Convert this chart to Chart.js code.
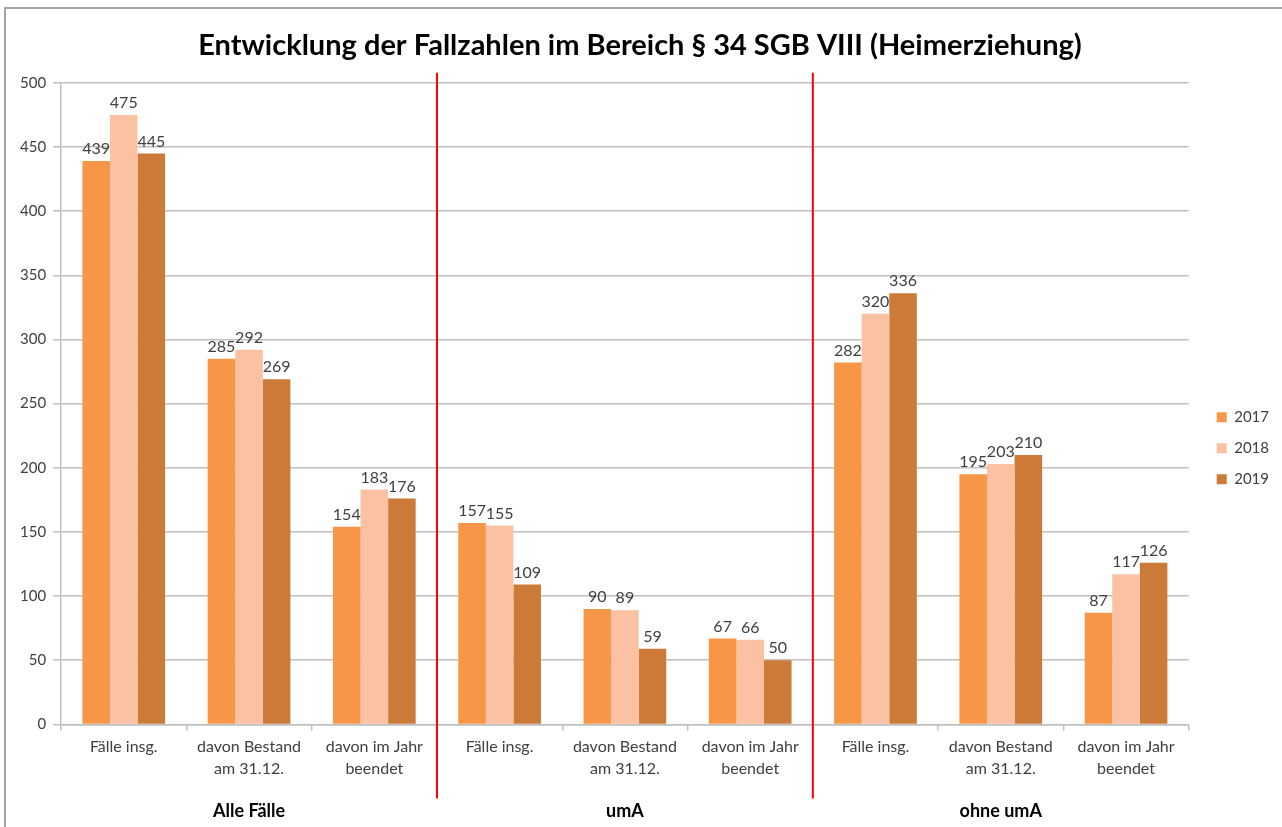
<!DOCTYPE html>
<html lang="de">

<head>
    <meta charset="UTF-8">
    <meta name="viewport" content="width=device-width, initial-scale=1.0">
    <script src="https://cdn.jsdelivr.net/npm/chart.js"></script>
    <title>Entwicklung der Fallzahlen</title>
    <style>
        html, body { margin: 0; padding: 0; background: #fff; overflow: hidden; }
        #frame {
            position: absolute; left: 4px; top: 7px; width: 1300px; height: 840px;
            border-top: 2px solid #a3a3a3; border-left: 2px solid #a3a3a3;
        }
        #wrap { position: absolute; left: 0; top: 0; width: 1282px; height: 827px; }
    </style>
</head>

<body>
    <div id="frame"></div>
    <div id="wrap"><canvas id="myChart" width="1282" height="827"></canvas></div>
    <script>
        // Kategorien (je Gruppe drei)
        const kategorien = [
            'Fälle insg.', ['davon Bestand', 'am 31.12.'], ['davon im Jahr', 'beendet'],
            'Fälle insg.', ['davon Bestand', 'am 31.12.'], ['davon im Jahr', 'beendet'],
            'Fälle insg.', ['davon Bestand', 'am 31.12.'], ['davon im Jahr', 'beendet']
        ];
        const gruppen = ['Alle Fälle', 'umA', 'ohne umA'];

        // Werte pro Jahr
        const werte2017 = [439, 285, 154, 157, 90, 67, 282, 195, 87];
        const werte2018 = [475, 292, 183, 155, 89, 66, 320, 203, 117];
        const werte2019 = [445, 269, 176, 109, 59, 50, 336, 210, 126];

        const schrift = 'Lato, "Open Sans", sans-serif';
        const textFarbe = '#404040';

        // Werte über den Balken
        const wertLabels = {
            id: 'wertLabels',
            afterDatasetsDraw(chart) {
                const ctx = chart.ctx;
                ctx.save();
                ctx.font = '16px ' + schrift;
                ctx.fillStyle = textFarbe;
                ctx.textAlign = 'center';
                ctx.textBaseline = 'bottom';
                chart.data.datasets.forEach((ds, i) => {
                    chart.getDatasetMeta(i).data.forEach((bar, j) => {
                        ctx.fillText(ds.data[j], bar.x, bar.y - 4);
                    });
                });
                ctx.restore();
            }
        };

        // rote Trennlinien zwischen den Gruppen
        const trennlinien = {
            id: 'trennlinien',
            afterLayout(chart) {
                // etwas Abstand zwischen Diagramm und Legende
                chart.legend.left += 12;
                chart.legend.right += 12;
            },
            afterDraw(chart) {
                const x = chart.scales.x;
                const x2 = chart.scales.x2;
                const ctx = chart.ctx;
                ctx.save();
                ctx.strokeStyle = '#ff0000';
                ctx.lineWidth = 2;
                [2.5, 5.5].forEach(pos => {
                    const px = (x.getPixelForValue(Math.floor(pos)) + x.getPixelForValue(Math.ceil(pos))) / 2;
                    ctx.beginPath();
                    ctx.moveTo(px, chart.chartArea.top - 10);
                    ctx.lineTo(px, x2.top + 14);
                    ctx.stroke();
                });
                ctx.restore();
            }
        };

        const chartConfig = {
            type: 'bar',
            data: {
                labels: kategorien,
                datasets: [
                    { label: '2017', data: werte2017, backgroundColor: '#f79646' },
                    { label: '2018', data: werte2018, backgroundColor: '#fac1a2' },
                    { label: '2019', data: werte2019, backgroundColor: '#cc7a38' }
                ]
            },
            options: {
                responsive: false,
                animation: false,
                layout: { padding: { left: 13, right: 15, top: 10, bottom: -11 } },
                datasets: { bar: { categoryPercentage: 0.66, barPercentage: 1 } },
                plugins: {
                    title: {
                        display: true,
                        text: 'Entwicklung der Fallzahlen im Bereich § 34 SGB VIII (Heimerziehung)',
                        color: '#000',
                        font: { family: schrift, size: 29, weight: 'bold' },
                        padding: { top: 18, bottom: 20 }
                    },
                    legend: {
                        position: 'right',
                        title: { display: true, text: '', padding: { top: 34, bottom: 0 } },
                        labels: {
                            boxWidth: 10, boxHeight: 10, padding: 16,
                            color: textFarbe,
                            font: { family: schrift, size: 15 }
                        }
                    },
                    tooltip: { enabled: false }
                },
                scales: {
                    x: {
                        grid: { drawOnChartArea: false, tickLength: 6, color: '#bfbfbf', lineWidth: 1.5 },
                        border: { color: '#bfbfbf', width: 1.5 },
                        ticks: {
                            color: textFarbe, padding: 5, maxRotation: 0, autoSkip: false,
                            font: { family: schrift, size: 16, lineHeight: 1.375 }
                        }
                    },
                    x2: {
                        type: 'category',
                        labels: gruppen,
                        position: 'bottom',
                        grid: { display: false, drawTicks: false },
                        border: { display: false },
                        ticks: {
                            color: '#000', padding: 16,
                            font: { family: schrift, size: 18, weight: 'bold' }
                        }
                    },
                    y: {
                        min: 0, max: 500,
                        ticks: {
                            stepSize: 50, color: textFarbe, padding: 7,
                            font: { family: schrift, size: 15 }
                        },
                        grid: { color: '#c0c0c0', lineWidth: 1.5, tickLength: 8 },
                        border: { color: '#c0c0c0', width: 1.5 }
                    }
                }
            },
            plugins: [wertLabels, trennlinien]
        };

        const ctx = document.getElementById('myChart').getContext('2d');
        const myChart = new Chart(ctx, chartConfig);
    </script>
</body>

</html>
